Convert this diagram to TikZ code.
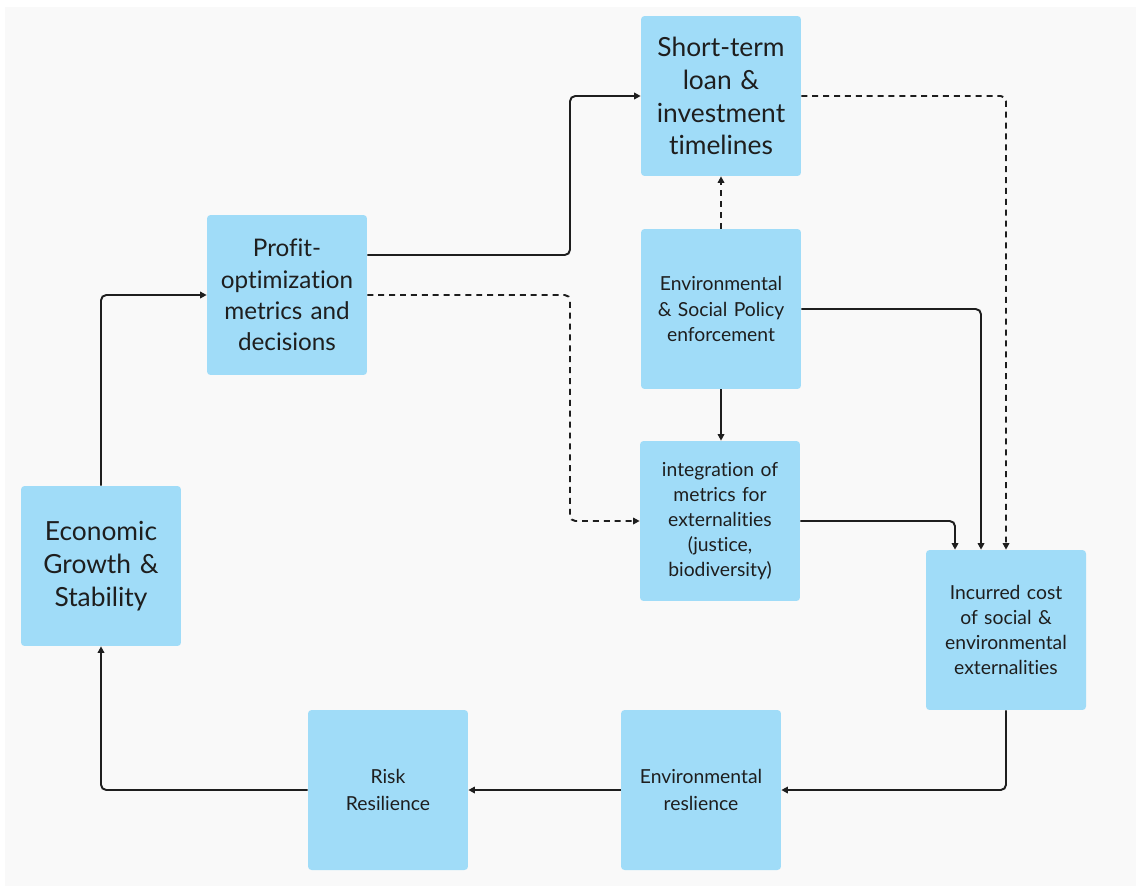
\documentclass[tikz,border=0pt]{standalone}
\usepackage{fontspec}
\setmainfont{Lato}[Ligatures={NoCommon,NoRare,NoContextual}]
\usepackage{tikz}
\usetikzlibrary{arrows.meta, positioning, calc}

\definecolor{boxblue}{RGB}{160,220,248}
\definecolor{canvas}{RGB}{249,249,249}
\definecolor{ink}{RGB}{30,30,30}

\begin{document}
\begin{tikzpicture}[
  x=0.02cm, y=-0.02cm,
  >={Triangle[length=1.3mm, width=1.3mm]},
  box/.style={fill=boxblue, rounded corners=2pt, inner sep=2pt, minimum width=3.2cm, minimum height=3.2cm, text width=3.0cm, align=center, text=ink},
  bigtxt/.style={font=\fontsize{15}{18.7}\selectfont},
  midtxt/.style={font=\fontsize{13.8}{17.9}\selectfont},
  smalltxt/.style={font=\fontsize{11}{14.3}\selectfont},
  flow/.style={->, line width=1.1pt, ink, rounded corners=3pt},
  flowd/.style={->, line width=1.1pt, ink, rounded corners=3pt, dash pattern=on 3.4pt off 2.8pt}
]

% canvas
\fill[white] (0,0) rectangle (1141,889);
\fill[canvas] (5,7) rectangle (1136,886);

% nodes
\node[box, bigtxt] (Short)  at (721,96)  {Short-term\\loan \&\\investment\\timelines};
\node[box, midtxt] (Profit) at (287,295) {Profit-\\optimization\\metrics and\\decisions};
\node[box, smalltxt] (Policy) at (721,309) {Environmental\\\& Social Policy\\enforcement};
\node[box, smalltxt] (Integ)  at (720,521) {integration of\\metrics for\\externalities\\(justice,\\biodiversity)};
\node[box, smalltxt] (Incur)  at (1006,630) {Incurred cost\\of social \&\\environmental\\externalities};
\node[box, bigtxt] (Econ)   at (101,566) {Economic\\Growth \&\\Stability};
\node[box, smalltxt, font=\fontsize{11}{15.3}\selectfont] (Risk)   at (388,790) {Risk\\Resilience};
\node[box, smalltxt, font=\fontsize{11}{15.3}\selectfont] (EnvRes) at (701,790) {Environmental\\reslience};

% bend points
\coordinate (SplitUp)   at (570,200);
\coordinate (SplitDown) at (570,400);

% flows
\draw[flow] (Econ.north) |- (Profit.west);
\draw[flow] ([yshift=0.8cm]Profit.east) -| (SplitUp) |- (Short.west);
\draw[flowd] (Profit.east) -| (SplitDown) |- (Integ.west);
\draw[flowd] (Short.east) -| (Incur.north);
\draw[flowd] (Policy.north) -- (Short.south);
\draw[flow] (Policy.east) -| ([xshift=-0.5cm]Incur.north);
\draw[flow] (Policy.south) -- (Integ.north -| Policy.south);
\draw[flow] (Integ.east) -| ([xshift=-1.02cm]Incur.north);
\draw[flow] (Incur.south) |- (EnvRes.east);
\draw[flow] (EnvRes.west) -- (Risk.east);
\draw[flow] (Risk.west) -| (Econ.south);

\end{tikzpicture}
\end{document}
